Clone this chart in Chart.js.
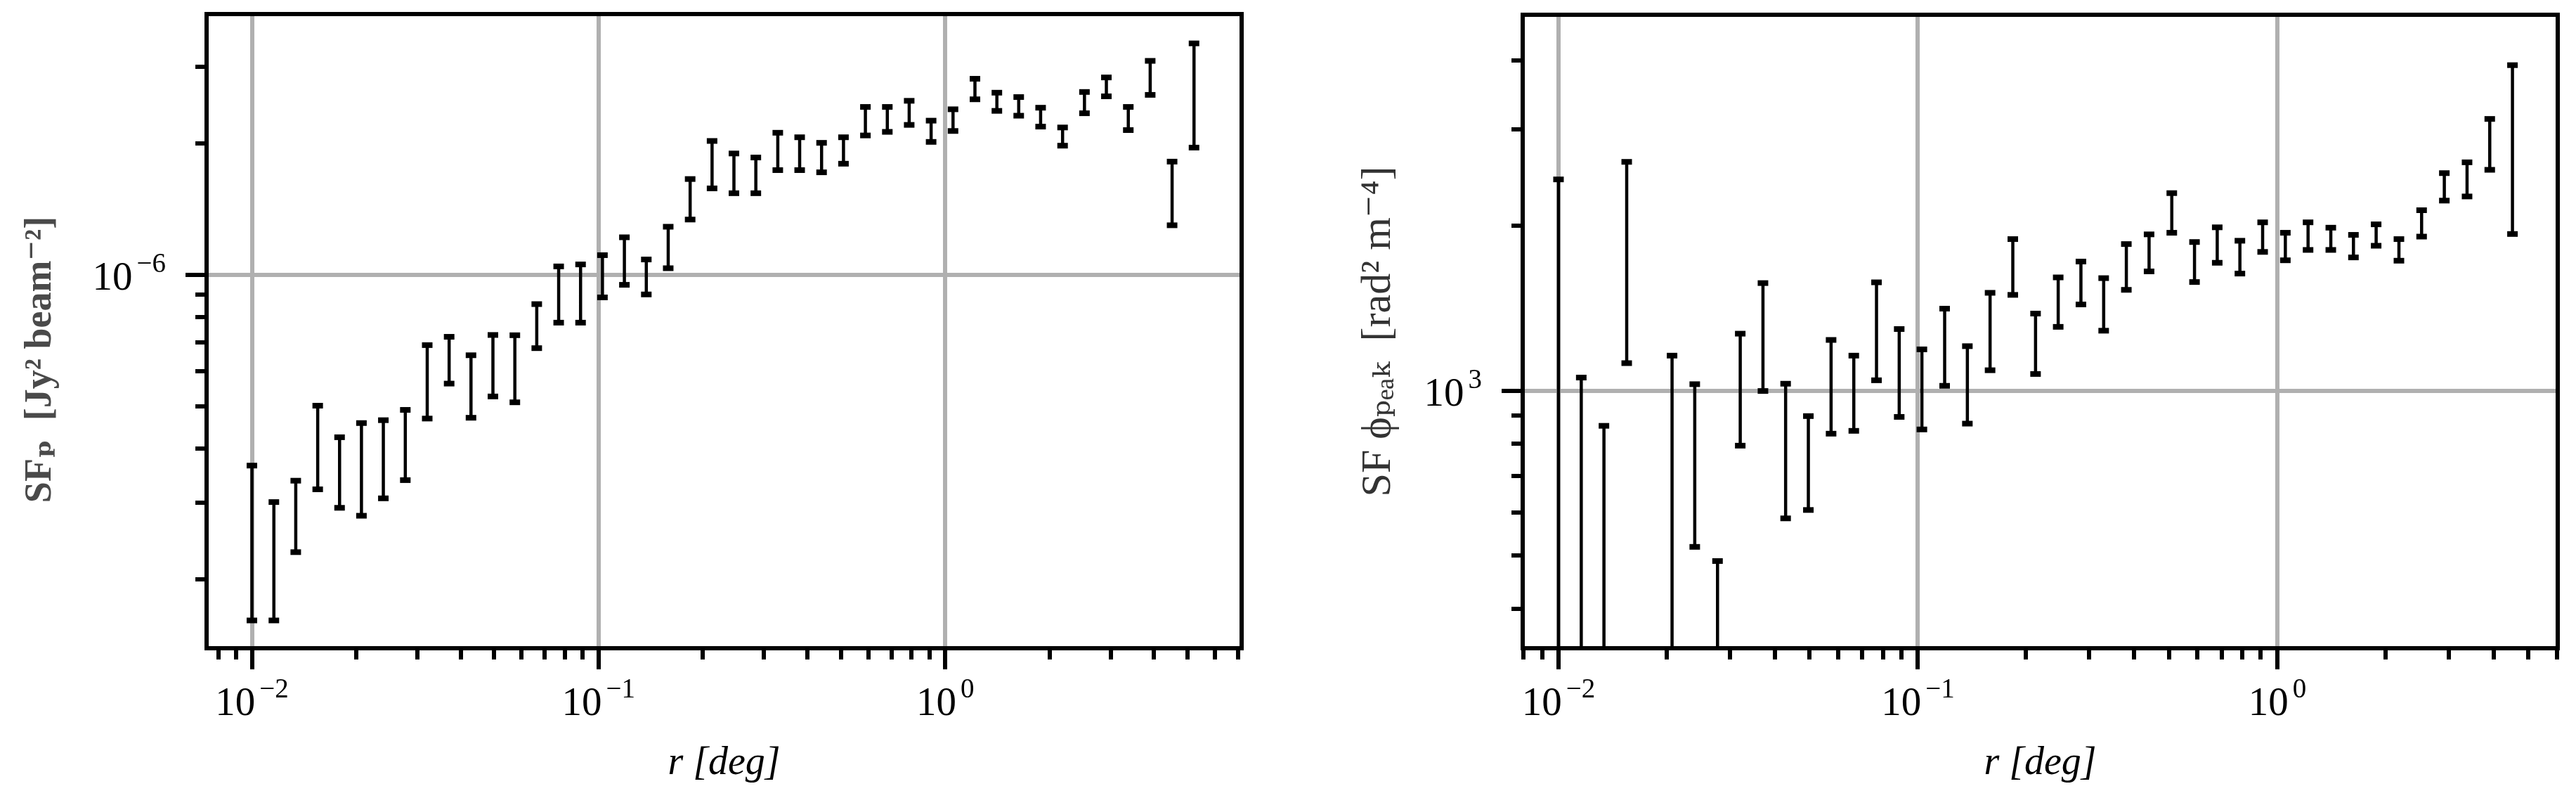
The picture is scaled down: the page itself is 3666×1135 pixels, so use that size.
<!DOCTYPE html>
<html>
<head>
<meta charset="utf-8">
<script src="https://cdn.jsdelivr.net/npm/chart.js@4.4.1/dist/chart.umd.min.js"></script>
<style>
  body { margin: 0; background: #fff; }
  canvas { position: absolute; top: 0; }
  #sfP { left: 0; }
  #sfPhi { left: 1830px; }
</style>
</head>
<body>
<canvas id="sfP" width="1830" height="1135"></canvas>
<canvas id="sfPhi" width="1836" height="1135"></canvas>
<script>
// separation r in degrees (log spaced bins)
const rDeg = [0.0100, 0.01157, 0.01338, 0.01548, 0.01790, 0.02070, 0.02394, 0.02770, 0.03204, 0.03706,
  0.04285, 0.04957, 0.05734, 0.06632, 0.07671, 0.08872, 0.1026, 0.1187, 0.1373, 0.1588,
  0.1837, 0.2125, 0.2457, 0.2842, 0.3288, 0.3802, 0.4398, 0.5087, 0.5884, 0.6806,
  0.7870, 0.9104, 1.053, 1.218, 1.409, 1.629, 1.884, 2.180, 2.521, 2.916,
  3.373, 3.901, 4.512, 5.219];

// SF of P, lower / upper ends of the error bars [Jy^2 beam^-2]
const sfPLow = [1.61e-7, 1.61e-7, 2.31e-7, 3.22e-7, 2.92e-7, 2.80e-7, 3.07e-7, 3.38e-7, 4.68e-7, 5.63e-7,
  4.70e-7, 5.26e-7, 5.10e-7, 6.79e-7, 7.77e-7, 7.77e-7, 8.88e-7, 9.49e-7, 9.02e-7, 1.036e-6,
  1.34e-6, 1.58e-6, 1.54e-6, 1.54e-6, 1.74e-6, 1.74e-6, 1.72e-6, 1.80e-6, 2.09e-6, 2.13e-6,
  2.21e-6, 2.02e-6, 2.14e-6, 2.53e-6, 2.38e-6, 2.32e-6, 2.19e-6, 1.98e-6, 2.35e-6, 2.57e-6,
  2.15e-6, 2.59e-6, 1.30e-6, 1.96e-6];
const sfPHigh = [3.65e-7, 3.01e-7, 3.37e-7, 5.01e-7, 4.24e-7, 4.57e-7, 4.64e-7, 4.90e-7, 6.90e-7, 7.21e-7,
  6.54e-7, 7.28e-7, 7.27e-7, 8.57e-7, 1.046e-6, 1.057e-6, 1.11e-6, 1.22e-6, 1.085e-6, 1.29e-6,
  1.66e-6, 2.03e-6, 1.90e-6, 1.86e-6, 2.12e-6, 2.07e-6, 2.01e-6, 2.07e-6, 2.43e-6, 2.43e-6,
  2.51e-6, 2.26e-6, 2.40e-6, 2.82e-6, 2.62e-6, 2.56e-6, 2.42e-6, 2.18e-6, 2.63e-6, 2.84e-6,
  2.43e-6, 3.10e-6, 1.82e-6, 3.40e-6];

// SF of phi_peak [rad^2 m^-4]; null low = bar runs below the axis
const sfPhiLow = [null, null, null, 1123, null, null, 519, null, 794, 999,
  585, 606, 835, 845, 1045, 896, 850, 1021, 871, 1090,
  1496, 1073, 1308, 1437, 1287, 1528, 1651, 1942, 1579, 1712,
  1636, 1792, 1730, 1807, 1807, 1751, 1839, 1727, 1911, 2223,
  2262, 2530, 1932, null];
const sfPhiHigh = [2430, 1057, 863, 2616, null, 1159, 1028, 489, 1271, 1572,
  1030, 899, 1238, 1159, 1577, 1296, 1190, 1412, 1206, 1509,
  1891, 1383, 1610, 1721, 1605, 1852, 1929, 2294, 1868, 1987,
  1878, 2029, 1942, 2029, 1984, 1925, 2012, 1891, 2135, 2495,
  2611, 3133, 3927, null];

// tick positions
const xTicksP = [0.008, 0.009, 0.01, 0.02, 0.03, 0.04, 0.05, 0.06, 0.07, 0.08, 0.09,
  0.1, 0.2, 0.3, 0.4, 0.5, 0.6, 0.7, 0.8, 0.9, 1, 2, 3, 4, 5, 6, 7];
const xTicksPhi = [0.008, 0.009, 0.01, 0.02, 0.03, 0.04, 0.05, 0.06, 0.07, 0.08, 0.09,
  0.1, 0.2, 0.3, 0.4, 0.5, 0.6, 0.7, 0.8, 0.9, 1, 2, 3, 4, 5, 6];
const yTicksP = [2e-7, 3e-7, 4e-7, 5e-7, 6e-7, 7e-7, 8e-7, 9e-7, 1e-6, 2e-6, 3e-6];
const yTicksPhi = [400, 500, 600, 700, 800, 900, 1000, 2000, 3000, 4000];

const serif = "'Liberation Serif', 'DejaVu Serif', serif";

function isDecade(v) {
  const e = Math.log10(v);
  return Math.abs(e - Math.round(e)) < 1e-6;
}

function errorBarPoints(xs, lows, highs, floor) {
  const pts = [];
  xs.forEach((x, i) => {
    if (highs[i] == null) return;
    pts.push({x: x, y: lows[i] == null ? floor : lows[i], cap: lows[i] != null});
    pts.push({x: x, y: highs[i], cap: true});
    pts.push({x: x, y: null});
  });
  return pts;
}

function logAxis(min, max, tickValues, size, horizontal, title) {
  return {
    type: 'logarithmic',
    min: min,
    max: max,
    afterBuildTicks: s => {
      s.ticks = tickValues.filter(v => v >= min && v <= max).map(v => ({value: v, major: isDecade(v)}));
    },
    afterFit: s => { if (horizontal) s.height = size; else s.width = size; },
    ticks: {display: false, autoSkip: false},
    grid: {
      color: c => (c.tick && isDecade(c.tick.value)) ? '#b0b0b0' : 'rgba(0,0,0,0)',
      lineWidth: 6,
      tickColor: '#000',
      tickWidth: 6,
      tickLength: 30,
      // minor ticks: only the part next to the spine is drawn
      tickBorderDash: c => (c.tick && isDecade(c.tick.value)) ? [] : (horizontal ? [13, 100] : [0, 14, 13, 100])
    },
    border: {display: true, color: '#000', width: 6},
    title: title
  };
}

// black box round the plot area
const frame = {
  id: 'frame',
  afterDatasetsDraw(chart) {
    const {ctx, chartArea: a} = chart;
    ctx.save();
    ctx.strokeStyle = '#000';
    ctx.lineWidth = 6;
    ctx.strokeRect(a.left, a.top, a.right - a.left, a.bottom - a.top);
    ctx.restore();
  }
};

// 10^n labels with a real superscript, placed at the scale's own tick pixels
const decadeLabels = {
  id: 'decadeLabels',
  afterDraw(chart) {
    const ctx = chart.ctx;
    const area = chart.chartArea;
    ctx.save();
    ctx.fillStyle = '#000';
    ctx.textAlign = 'left';
    ctx.textBaseline = 'alphabetic';
    Object.values(chart.scales).forEach(s => {
      s.ticks.forEach(t => {
        if (!isDecade(t.value)) return;
        const exp = String(Math.round(Math.log10(t.value))).replace('-', '\u2212');
        const p = s.getPixelForValue(t.value);
        ctx.font = '57px ' + serif;
        const wBase = ctx.measureText('10').width;
        ctx.font = '39px ' + serif;
        const wExp = ctx.measureText(exp).width;
        const w = wBase + 6 + wExp;
        let left, base;
        if (s.isHorizontal()) {
          left = p - w / 2;
          base = area.bottom + 95;
        } else {
          left = area.left - 58 - w;
          base = p + 21;
        }
        ctx.font = '57px ' + serif;
        ctx.fillText('10', left, base);
        ctx.font = '39px ' + serif;
        ctx.fillText(exp, left + wBase + 6, base - 25);
      });
    });
    ctx.restore();
  }
};

function errorBarChart(id, points, xAxis, yAxis, padding) {
  return new Chart(document.getElementById(id), {
    type: 'line',
    data: {
      datasets: [{
        data: points,
        borderColor: '#000',
        borderWidth: 4.5,
        tension: 0,
        spanGaps: false,
        clip: 0,
        pointStyle: 'line',
        pointRadius: c => (c.raw && c.raw.cap) ? 7.5 : 0,
        pointBorderWidth: 8,
        pointBorderColor: '#000',
        pointBackgroundColor: '#000'
      }]
    },
    options: {
      responsive: false,
      animation: false,
      devicePixelRatio: 1,
      events: [],
      layout: {padding: padding},
      plugins: {legend: {display: false}, tooltip: {enabled: false}},
      scales: {x: xAxis, y: yAxis}
    },
    plugins: [frame, decadeLabels]
  });
}

const xTitle = {
  display: true,
  text: 'r [deg]',
  color: '#000',
  font: {family: serif, size: 56, style: 'italic'},
  padding: {top: 0, bottom: 15}
};

// Left panel: SF of polarized intensity
errorBarChart('sfP',
  errorBarPoints(rDeg, sfPLow, sfPHigh, 1.39e-8),
  logAxis(0.0074, 7.16, xTicksP, 213, true, xTitle),
  logAxis(1.39e-7, 3.97e-6, yTicksP, 294, false, {
    display: true,
    text: 'SF\u209A  [Jy\u00B2 beam\u207B\u00B2]      ',
    color: '#4a4a4a',
    font: {family: serif, size: 54, weight: 'bold'},
    padding: {top: 26, bottom: 0}
  }),
  {left: 0, right: 63, top: 20, bottom: 0});

// Right panel: SF of phi_peak
errorBarChart('sfPhi',
  errorBarPoints(rDeg, sfPhiLow, sfPhiHigh, 34),
  logAxis(0.00795, 6.03, xTicksPhi, 213, true, xTitle),
  logAxis(339, 4853, yTicksPhi, 337, false, {
    display: true,
    text: 'SF \u03D5\u209A\u2091\u2090\u2096  [rad\u00B2 m\u207B\u2074]',
    color: '#333',
    font: {family: serif, size: 60},
    padding: {top: 96, bottom: 0}
  }),
  {left: 0, right: 26, top: 21, bottom: 0});
</script>
</body>
</html>
